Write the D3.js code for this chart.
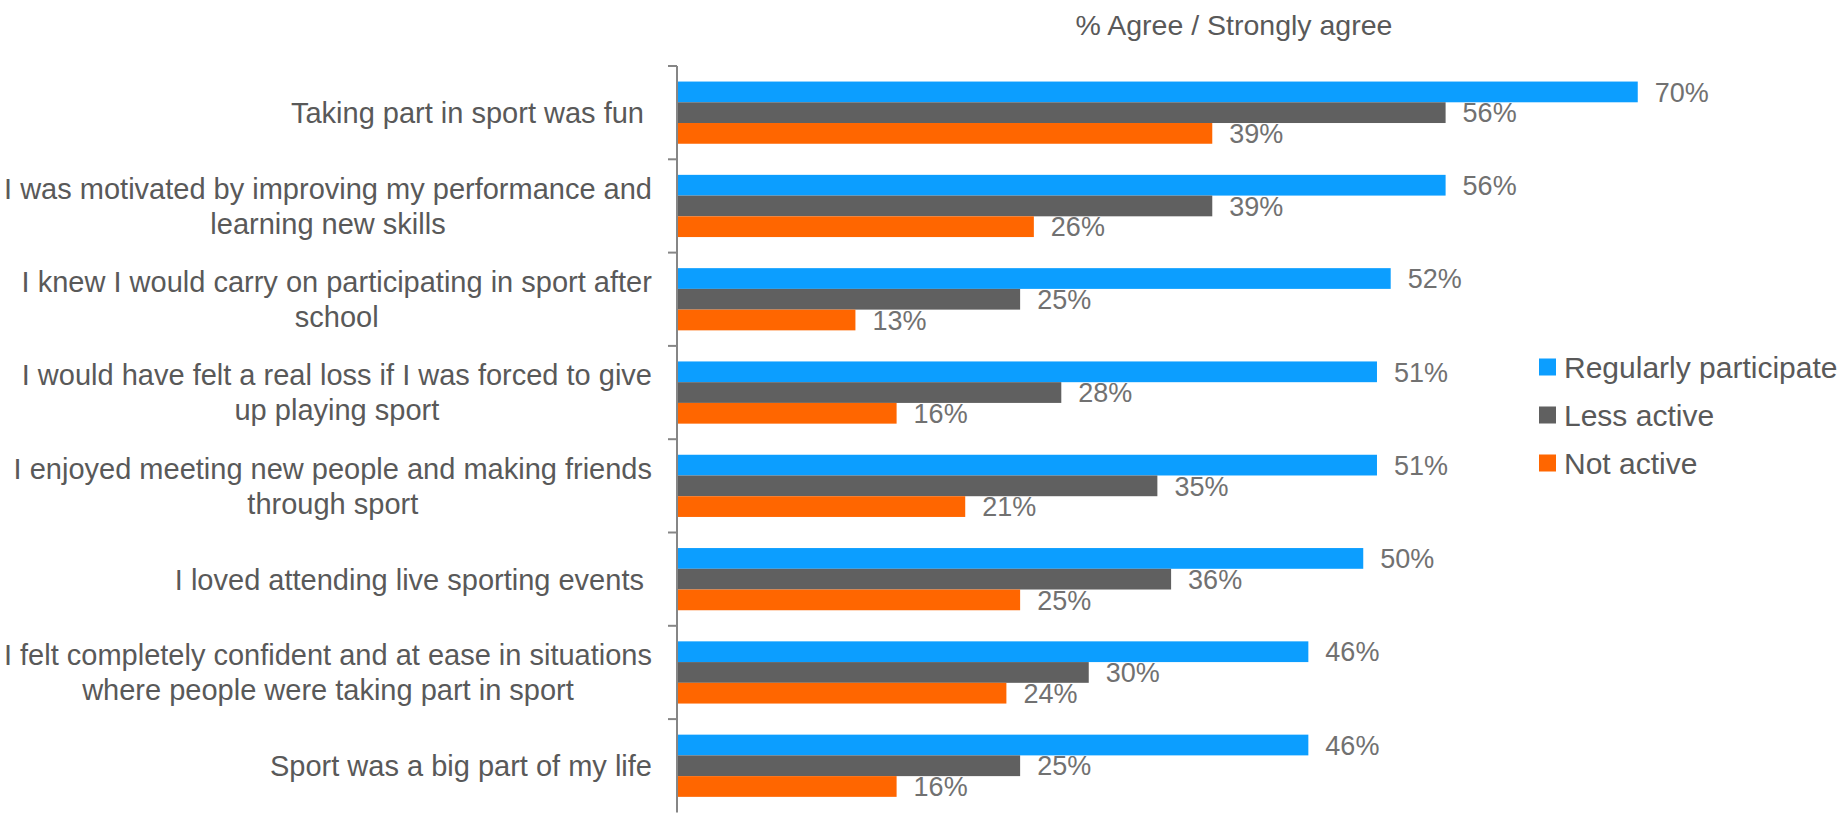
<!DOCTYPE html>
<html>
<head>
<meta charset="utf-8">
<script src="https://cdn.jsdelivr.net/npm/d3@7/dist/d3.min.js"></script>
<style>
  html, body { margin: 0; padding: 0; background: #fff; }
  svg { display: block; }
  text { font-family: "Liberation Sans", Arial, Helvetica, sans-serif; }
</style>
</head>
<body>
<svg id="chart" width="1846" height="813"></svg>
<script>
// Statements (each entry is the list of lines for one label)
const categories = [
  ["Taking part in sport was fun "],
  ["I was motivated by improving my performance and", "learning new skills"],
  ["I knew I would carry on participating in sport after", "school"],
  ["I would have felt a real loss if I was forced to give", "up playing sport"],
  ["I enjoyed meeting new people and making friends", "through sport"],
  ["I loved attending live sporting events "],
  ["I felt completely confident and at ease in situations", "where people were taking part in sport"],
  ["Sport was a big part of my life"]
];

const seriesNames = ["Regularly participate", "Less active", "Not active"];
const seriesColors = ["#0c9eff", "#606060", "#ff6600"];

// % agree / strongly agree per group
const regularly = [70, 56, 52, 51, 51, 50, 46, 46];
const lessActive = [56, 39, 25, 28, 35, 36, 30, 25];
const notActive = [39, 26, 13, 16, 21, 25, 24, 16];

const titleText = "% Agree / Strongly agree";

const seriesValues = [regularly, lessActive, notActive];
const catKeys = categories.map((c, i) => i);

const svg = d3.select("#chart");

const x = d3.scaleLinear().domain([0, 80]).range([677, 1775]);
const y0 = d3.scaleBand().domain(catKeys).range([66, 66 + 8 * 93.3]).padding(0);
const bw = y0.bandwidth();
const y1 = d3.scaleBand().domain(seriesNames).range([bw / 6, bw * 5 / 6]).padding(0);

// Title
svg.append("text")
  .attr("x", 1234).attr("y", 35)
  .attr("text-anchor", "middle")
  .attr("font-size", 28.5)
  .attr("fill", "#595959")
  .text(titleText);

// Bars
const groups = svg.append("g").selectAll("g")
  .data(catKeys)
  .join("g")
  .attr("transform", d => `translate(0,${y0(d)})`);

groups.selectAll("rect")
  .data(i => seriesNames.map((s, k) => ({ s, k, v: seriesValues[k][i] })))
  .join("rect")
  .attr("x", x(0))
  .attr("y", d => y1(d.s))
  .attr("width", d => x(d.v) - x(0))
  .attr("height", y1.bandwidth())
  .attr("fill", d => seriesColors[d.k]);

groups.selectAll("text.val")
  .data(i => seriesNames.map((s, k) => ({ s, k, v: seriesValues[k][i] })))
  .join("text")
  .attr("class", "val")
  .attr("x", d => x(d.v) + 17)
  .attr("y", d => y1(d.s) + y1.bandwidth() / 2)
  .attr("dy", "0.36em")
  .attr("font-size", 27)
  .attr("fill", "#717171")
  .text(d => d.v + "%");

// Category axis: line with ticks at band boundaries
const axis = svg.append("g");
axis.append("line")
  .attr("x1", x(0)).attr("x2", x(0))
  .attr("y1", y0.range()[0]).attr("y2", y0.range()[1])
  .attr("stroke", "#868686").attr("stroke-width", 2);
axis.selectAll("line.tick")
  .data(catKeys)
  .join("line")
  .attr("class", "tick")
  .attr("x1", x(0) - 9).attr("x2", x(0))
  .attr("y1", d => y0(d)).attr("y2", d => y0(d))
  .attr("stroke", "#868686").attr("stroke-width", 2);

// Category labels: block right-aligned near the axis, lines centred within the block
const labelRight = 652;
const lineH = 35;
catKeys.forEach(i => {
  const lines = categories[i];
  const cy = y0(i) + bw / 2;
  const g = svg.append("g");
  const t = g.append("text")
    .attr("font-size", 29)
    .attr("fill", "#595959")
    .attr("text-anchor", "middle")
    .style("white-space", "pre");
  lines.forEach((ln, j) => {
    t.append("tspan")
      .attr("x", 0)
      .attr("y", cy + (j - (lines.length - 1) / 2) * lineH)
      .attr("dy", "0.36em")
      .text(ln);
  });
  const w = t.node().getBBox().width;
  t.attr("transform", `translate(${labelRight - w / 2},0)`);
});

// Legend
const legend = svg.append("g");
seriesNames.forEach((s, k) => {
  const cy = 367 + k * 48;
  legend.append("rect")
    .attr("x", 1539).attr("y", cy - 8.5)
    .attr("width", 17).attr("height", 17)
    .attr("fill", seriesColors[k]);
  legend.append("text")
    .attr("x", 1564).attr("y", cy)
    .attr("dy", "0.36em")
    .attr("font-size", 30)
    .attr("fill", "#595959")
    .text(s);
});
</script>
</body>
</html>
